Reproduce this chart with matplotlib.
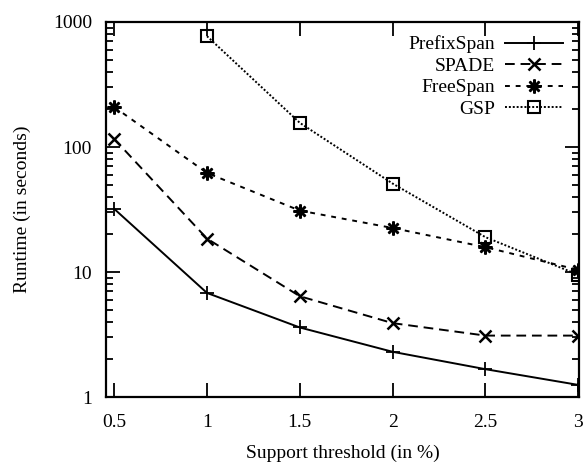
import matplotlib
matplotlib.use('Agg')
from matplotlib import pyplot as plt
from matplotlib.ticker import FixedLocator, LogLocator, NullFormatter

# Data
support = [0.5, 1, 1.5, 2, 2.5, 3]
prefixspan = [32, 6.8, 3.6, 2.3, 1.67, 1.25]
spade = [116, 18.5, 6.4, 3.9, 3.1, 3.1]
freespan = [209, 62, 31, 22.5, 15.8, 10.4]
gsp_support = [1, 1.5, 2, 2.5, 3]
gsp = [770, 156, 51, 19, 9.5]

x_ticks = [0.5, 1, 1.5, 2, 2.5, 3]
x_labels = ['0.5', '1', '1.5', '2', '2.5', '3']
y_ticks = [1, 10, 100, 1000]
y_labels = ['1', '10', '100', '1000']

plt.rcParams['font.family'] = ['Liberation Serif', 'DejaVu Serif']

fig = plt.figure(figsize=(5.88, 4.63), dpi=100)
ax = fig.add_axes([0.180, 0.1425, 0.805, 0.81])

lw = 1.4
ax.plot(support, prefixspan, color='black', linestyle='-', linewidth=lw,
        marker='+', markersize=10, markeredgewidth=1.3, label='PrefixSpan')
ax.plot(support, spade, color='black', linestyle=(0, (5, 3)), linewidth=lw,
        marker='x', markersize=8, markeredgewidth=1.8, label='SPADE')
ax.plot(support, freespan, color='black', linestyle=(0, (2.5, 3)), linewidth=lw,
        marker=(8, 2, 0), markersize=10, markeredgewidth=1.8, label='FreeSpan')
ax.plot(gsp_support, gsp, color='black', linestyle=(0, (1, 1)), linewidth=lw,
        marker='s', markersize=8, markerfacecolor='none', markeredgewidth=1.5,
        label='GSP')

ax.set_yscale('log')
ax.set_xlim(0.455, 3.005)
ax.set_ylim(1, 1000)

ax.xaxis.set_major_locator(FixedLocator(x_ticks))
ax.set_xticklabels(x_labels)
ax.yaxis.set_major_locator(FixedLocator(y_ticks))
ax.set_yticklabels(y_labels)
ax.yaxis.set_minor_locator(LogLocator(base=10, subs=range(2, 10)))
ax.yaxis.set_minor_formatter(NullFormatter())

ax.tick_params(which='both', direction='in', top=True, right=True,
               labelsize=14, colors='black', width=1.3)
ax.tick_params(which='major', length=10)
ax.tick_params(which='minor', length=5)
ax.tick_params(axis='x', which='major', pad=12)
ax.tick_params(axis='y', which='major', pad=10)
for s in ax.spines.values():
    s.set_linewidth(1.6)

ax.set_xlabel('Support threshold (in %)', fontsize=14, labelpad=10)
ax.set_ylabel('Runtime (in seconds)', fontsize=14, labelpad=16)

ax.legend(loc='upper right', frameon=False, markerfirst=False, fontsize=14,
          handlelength=3.0, handletextpad=0.5, labelspacing=0.2,
          borderaxespad=0.3, bbox_to_anchor=(0.995, 1.0))

fig.savefig('out.png', dpi=100)
